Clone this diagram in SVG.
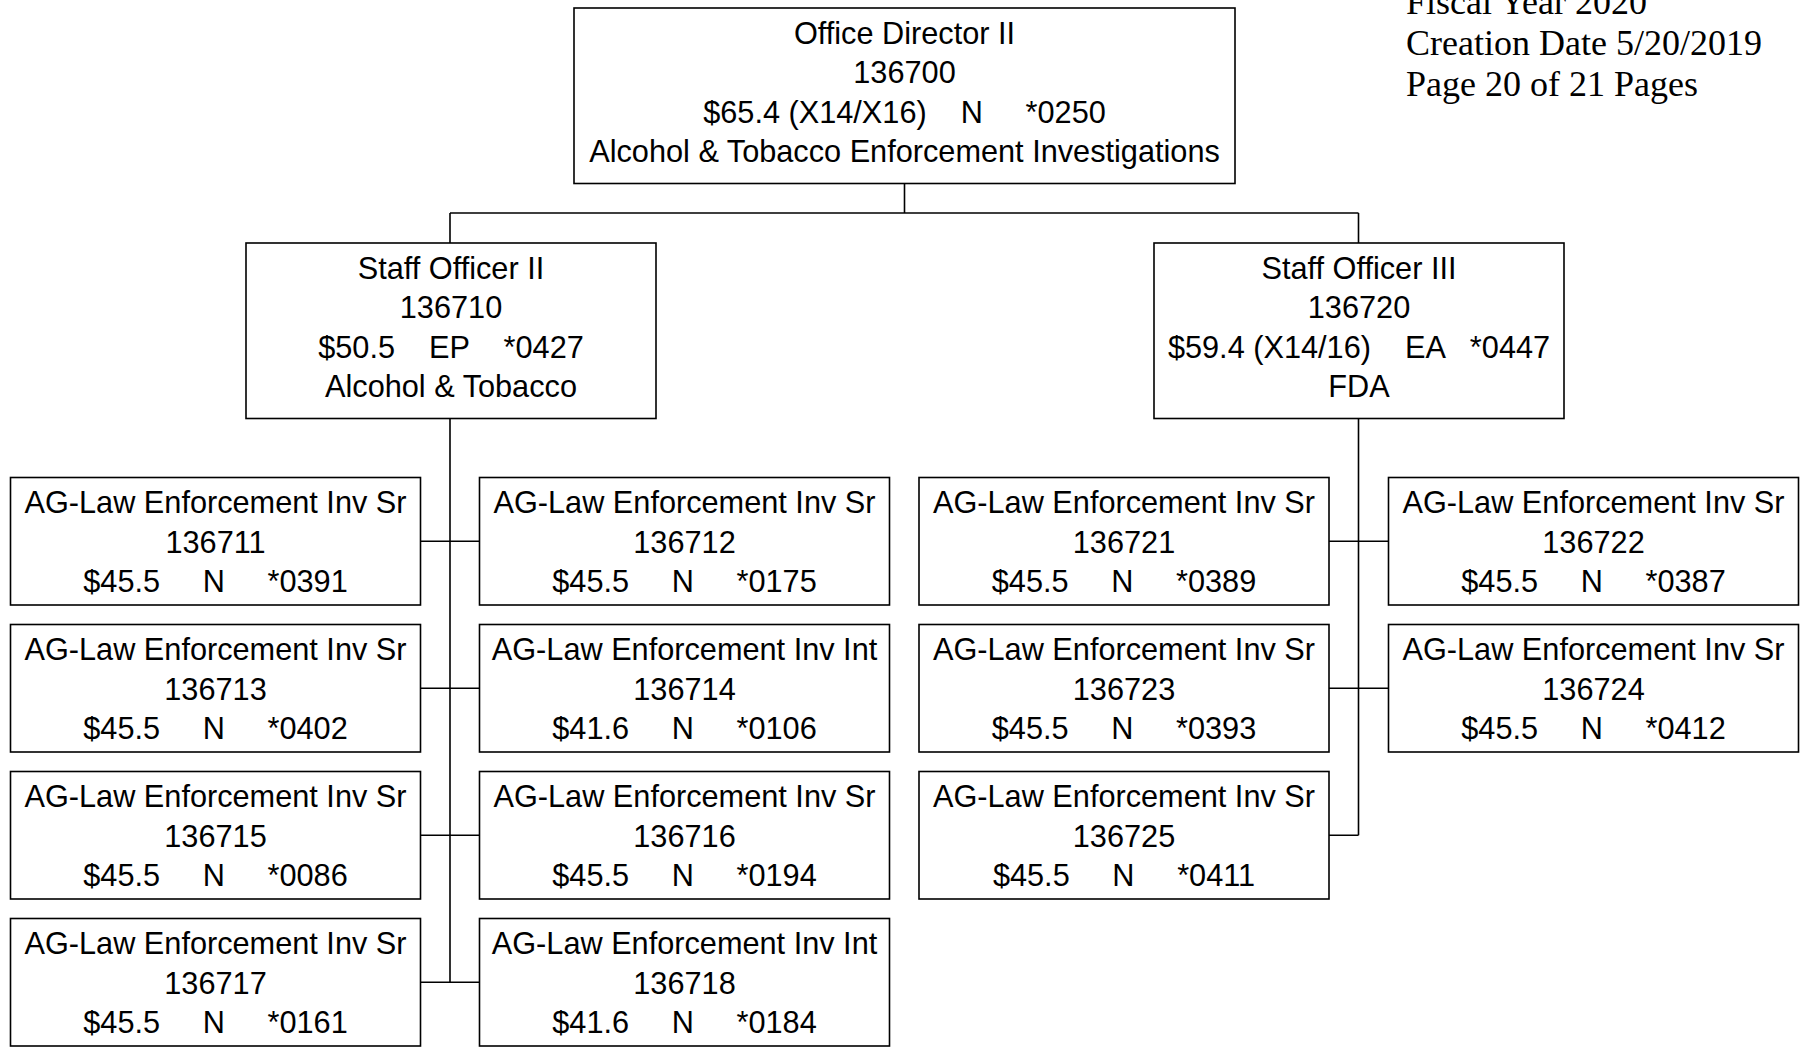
<svg xmlns="http://www.w3.org/2000/svg" width="1801" height="1047" viewBox="0 0 1801 1047">
<style>
.box{fill:#fff;stroke:#000;stroke-width:1.6}
.t{font-family:"Liberation Sans",Arial,sans-serif;font-size:30.7px;fill:#000;text-anchor:middle;white-space:pre}
.h{font-family:"Liberation Serif","Times New Roman",serif;font-size:36px;fill:#000}
.c{fill:none;stroke:#000;stroke-width:1.6}
</style>
<rect width="1801" height="1047" fill="#fff"/>
<g id="header">
<text class="h" x="1406" y="14">Fiscal Year 2020</text>
<text class="h" x="1406" y="55">Creation Date 5/20/2019</text>
<text class="h" x="1406" y="96">Page 20 of 21 Pages</text>
</g>
<g id="connectors">
<path class="c" d="M904.5 183.5V213M450 213H1358.5M450 213V243M1358.5 213V243"/>
<path class="c" d="M450 418.5V982.25M420.5 541.25H479.5M420.5 688.25H479.5M420.5 835.25H479.5M420.5 982.25H479.5"/>
<path class="c" d="M1358.5 418.5V835.25M1329 541.25H1388.5M1329 688.25H1388.5M1329 835.25H1358.5"/>
</g>
<g id="n136700">
<rect class="box" x="574" y="8" width="661" height="175.5"/>
<text class="t" x="904.5" y="43.5">Office Director II</text>
<text class="t" x="904.5" y="83">136700</text>
<text class="t" x="904.5" y="122.5" xml:space="preserve">$65.4 (X14/X16)    N     *0250</text>
<text class="t" x="904.5" y="162">Alcohol &amp; Tobacco Enforcement Investigations</text>
</g>
<g id="n136710">
<rect class="box" x="246" y="243" width="410" height="175.5"/>
<text class="t" x="451" y="278.5">Staff Officer II</text>
<text class="t" x="451" y="318">136710</text>
<text class="t" x="451" y="357.5" xml:space="preserve">$50.5    EP    *0427</text>
<text class="t" x="451" y="397">Alcohol &amp; Tobacco</text>
</g>
<g id="n136720">
<rect class="box" x="1154" y="243" width="410" height="175.5"/>
<text class="t" x="1359" y="278.5">Staff Officer III</text>
<text class="t" x="1359" y="318">136720</text>
<text class="t" x="1359" y="357.5" xml:space="preserve">$59.4 (X14/16)    EA   *0447</text>
<text class="t" x="1359" y="397">FDA</text>
</g>
<g id="n136711">
<rect class="box" x="10.5" y="477.5" width="410" height="127.5"/>
<text class="t" x="215.5" y="513">AG-Law Enforcement Inv Sr</text>
<text class="t" x="215.5" y="552.5">136711</text>
<text class="t" x="215.5" y="592" xml:space="preserve">$45.5     N     *0391</text>
</g>
<g id="n136712">
<rect class="box" x="479.5" y="477.5" width="410" height="127.5"/>
<text class="t" x="684.5" y="513">AG-Law Enforcement Inv Sr</text>
<text class="t" x="684.5" y="552.5">136712</text>
<text class="t" x="684.5" y="592" xml:space="preserve">$45.5     N     *0175</text>
</g>
<g id="n136713">
<rect class="box" x="10.5" y="624.5" width="410" height="127.5"/>
<text class="t" x="215.5" y="660">AG-Law Enforcement Inv Sr</text>
<text class="t" x="215.5" y="699.5">136713</text>
<text class="t" x="215.5" y="739" xml:space="preserve">$45.5     N     *0402</text>
</g>
<g id="n136714">
<rect class="box" x="479.5" y="624.5" width="410" height="127.5"/>
<text class="t" x="684.5" y="660">AG-Law Enforcement Inv Int</text>
<text class="t" x="684.5" y="699.5">136714</text>
<text class="t" x="684.5" y="739" xml:space="preserve">$41.6     N     *0106</text>
</g>
<g id="n136715">
<rect class="box" x="10.5" y="771.5" width="410" height="127.5"/>
<text class="t" x="215.5" y="807">AG-Law Enforcement Inv Sr</text>
<text class="t" x="215.5" y="846.5">136715</text>
<text class="t" x="215.5" y="886" xml:space="preserve">$45.5     N     *0086</text>
</g>
<g id="n136716">
<rect class="box" x="479.5" y="771.5" width="410" height="127.5"/>
<text class="t" x="684.5" y="807">AG-Law Enforcement Inv Sr</text>
<text class="t" x="684.5" y="846.5">136716</text>
<text class="t" x="684.5" y="886" xml:space="preserve">$45.5     N     *0194</text>
</g>
<g id="n136717">
<rect class="box" x="10.5" y="918.5" width="410" height="127.5"/>
<text class="t" x="215.5" y="954">AG-Law Enforcement Inv Sr</text>
<text class="t" x="215.5" y="993.5">136717</text>
<text class="t" x="215.5" y="1033" xml:space="preserve">$45.5     N     *0161</text>
</g>
<g id="n136718">
<rect class="box" x="479.5" y="918.5" width="410" height="127.5"/>
<text class="t" x="684.5" y="954">AG-Law Enforcement Inv Int</text>
<text class="t" x="684.5" y="993.5">136718</text>
<text class="t" x="684.5" y="1033" xml:space="preserve">$41.6     N     *0184</text>
</g>
<g id="n136721">
<rect class="box" x="919" y="477.5" width="410" height="127.5"/>
<text class="t" x="1124" y="513">AG-Law Enforcement Inv Sr</text>
<text class="t" x="1124" y="552.5">136721</text>
<text class="t" x="1124" y="592" xml:space="preserve">$45.5     N     *0389</text>
</g>
<g id="n136722">
<rect class="box" x="1388.5" y="477.5" width="410" height="127.5"/>
<text class="t" x="1593.5" y="513">AG-Law Enforcement Inv Sr</text>
<text class="t" x="1593.5" y="552.5">136722</text>
<text class="t" x="1593.5" y="592" xml:space="preserve">$45.5     N     *0387</text>
</g>
<g id="n136723">
<rect class="box" x="919" y="624.5" width="410" height="127.5"/>
<text class="t" x="1124" y="660">AG-Law Enforcement Inv Sr</text>
<text class="t" x="1124" y="699.5">136723</text>
<text class="t" x="1124" y="739" xml:space="preserve">$45.5     N     *0393</text>
</g>
<g id="n136724">
<rect class="box" x="1388.5" y="624.5" width="410" height="127.5"/>
<text class="t" x="1593.5" y="660">AG-Law Enforcement Inv Sr</text>
<text class="t" x="1593.5" y="699.5">136724</text>
<text class="t" x="1593.5" y="739" xml:space="preserve">$45.5     N     *0412</text>
</g>
<g id="n136725">
<rect class="box" x="919" y="771.5" width="410" height="127.5"/>
<text class="t" x="1124" y="807">AG-Law Enforcement Inv Sr</text>
<text class="t" x="1124" y="846.5">136725</text>
<text class="t" x="1124" y="886" xml:space="preserve">$45.5     N     *0411</text>
</g>
</svg>
